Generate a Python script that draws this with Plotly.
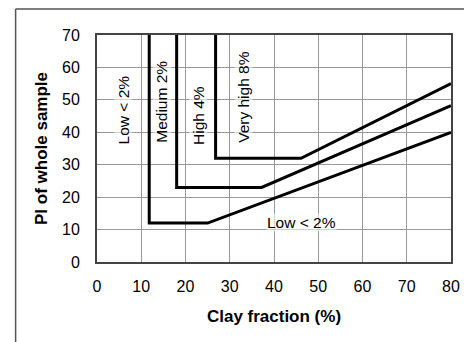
import plotly.graph_objects as go

# Boundary lines (clay fraction %, PI %)
low_med_x = [11.8, 11.8, 25.0, 80]
low_med_y = [70, 12, 12, 40]
med_high_x = [18.0, 18.0, 37.2, 80]
med_high_y = [70, 23, 23, 48.2]
high_vhigh_x = [26.8, 26.8, 46.1, 80]
high_vhigh_y = [70, 32, 32, 55]

labels = ["Low < 2%", "Medium 2%", "High 4%", "Very high 8%", "Low < 2%"]
label_x = [6.0, 14.6, 22.8, 33.2, 46.3]
label_y = [46.9, 49.3, 45.3, 50.9, 12.3]
label_angle = [-90, -90, -90, -90, 0]

x_ticks = [0, 10, 20, 30, 40, 50, 60, 70, 80]
y_ticks = [0, 10, 20, 30, 40, 50, 60, 70]

FONT = "Liberation Sans, Arial, sans-serif"

fig = go.Figure()
for xs, ys in [(low_med_x, low_med_y), (med_high_x, med_high_y), (high_vhigh_x, high_vhigh_y)]:
    fig.add_trace(go.Scatter(x=xs, y=ys, mode="lines",
                             line=dict(color="black", width=3), showlegend=False,
                             hoverinfo="skip"))

for t, x, y, a in zip(labels, label_x, label_y, label_angle):
    fig.add_annotation(x=x, y=y, text=t, textangle=a, showarrow=False,
                       font=dict(family=FONT, size=15.5, color="black"),
                       bgcolor="rgba(255,255,255,0.55)", borderpad=0)

# page body has an 8px margin; figure placed accordingly
W, H = 464, 334
L, T = 89, 27
pw, ph = 361, 227
R = W - L - pw
B = H - T - ph

fx0 = (6 - L) / pw
fy_top = 1 + (T - 1) / ph
fig.add_shape(type="line", xref="paper", yref="paper",
              x0=fx0, x1=(W - L) / pw + 0.05, y0=fy_top, y1=fy_top,
              line=dict(color="#555", width=1.5))
fig.add_shape(type="line", xref="paper", yref="paper",
              x0=fx0, x1=fx0, y0=fy_top, y1=-(B + 10) / ph,
              line=dict(color="#555", width=1.5))

tick_font = dict(family=FONT, size=16, color="black")
title_font = dict(family=FONT, size=17, color="black")
fig.update_xaxes(range=[0, 80], tickvals=x_ticks, showgrid=True, gridcolor="#999", gridwidth=1,
                 showline=True, linecolor="#444", linewidth=2, mirror=True, zeroline=False,
                 ticks="outside", ticklen=9, tickcolor="rgba(0,0,0,0)", tickfont=tick_font,
                 title=dict(text="<b>Clay fraction (%)</b>", font=title_font, standoff=16))
fig.update_yaxes(range=[0, 70], tickvals=y_ticks, showgrid=True, gridcolor="#999", gridwidth=1,
                 showline=True, linecolor="#444", linewidth=2, mirror=True, zeroline=False,
                 ticks="outside", ticklen=12, tickcolor="rgba(0,0,0,0)", tickfont=tick_font,
                 title=dict(text="<b>PI of whole sample</b>", font=title_font, standoff=10))

fig.update_layout(width=W, height=H, margin=dict(l=L, r=R, t=T, b=B),
                  plot_bgcolor="white", paper_bgcolor="white")

fig.write_html("out.html")
